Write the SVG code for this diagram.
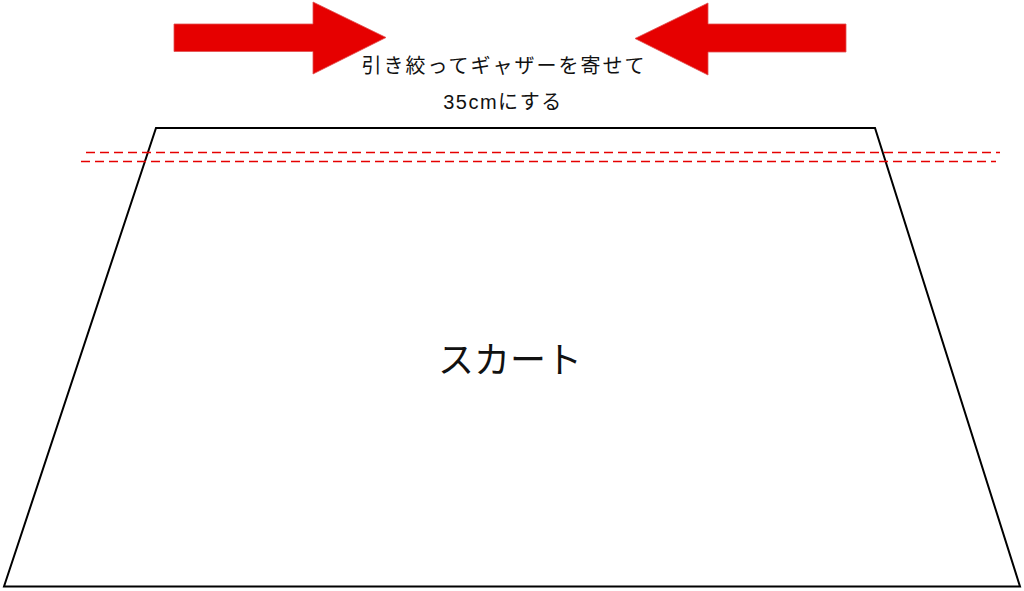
<svg xmlns="http://www.w3.org/2000/svg" width="1024" height="591" viewBox="0 0 1024 591">
<style>
.arrow{fill:#e60000;stroke:#e05050;stroke-width:0.8}
.dash{stroke:#e60000;stroke-width:1.5;stroke-dasharray:9 5;fill:none}
.t{font-family:"Liberation Sans","Noto Sans CJK JP",sans-serif;fill:#111;text-anchor:middle}
</style>
<rect width="1024" height="591" fill="#fff"/>
<g id="skirt">
<polygon points="156,128 875,128 1020,586.5 4,586.5" fill="none" stroke="#000" stroke-width="2"/>
<text class="t" x="510" y="373" font-size="36">スカート</text>
</g>
<g id="connectors">
<line class="dash" x1="86" y1="152.5" x2="1000" y2="152.5"/>
<line class="dash" x1="81" y1="161.5" x2="996" y2="161.5"/>
</g>
<g id="arrow-left">
<polygon class="arrow" points="174,24 313,24 313,2 386,37.5 313,74 313,51.5 174,51.5"/>
</g>
<g id="arrow-right">
<polygon class="arrow" points="846,24 708,24 708,3 635,38.5 708,75 708,52 846,52"/>
</g>
<g id="label">
<text class="t" x="504" y="73" font-size="20" letter-spacing="2">引き絞ってギャザーを寄せて</text>
<text class="t" x="503" y="108.5" font-size="20" letter-spacing="1.5">35cmにする</text>
</g>
</svg>
